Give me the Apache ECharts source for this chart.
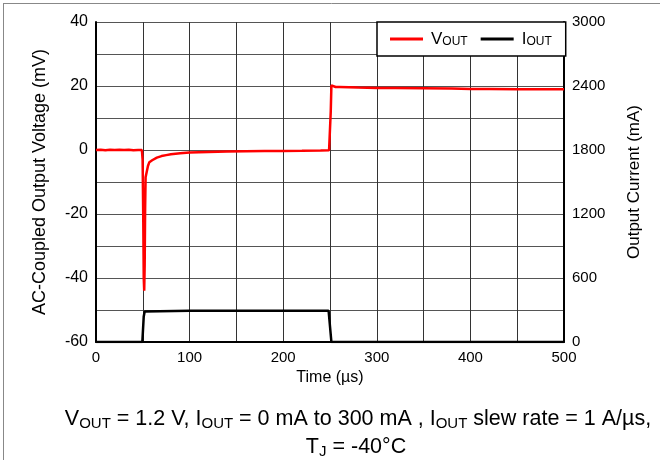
<!DOCTYPE html>
<html>
<head>
<meta charset="utf-8">
<script src="https://cdn.jsdelivr.net/npm/echarts@6/dist/echarts.min.js"></script>
<style>html,body{margin:0;padding:0;background:#fff}#c{width:660px;height:460px}</style>
</head>
<body>
<div id="c"></div>
<script>
// Time axis (µs)
const xTicks = [0, 100, 200, 300, 400, 500];
const leftTicks = [-60, -40, -20, 0, 20, 40];
const rightTicks = [0, 600, 1200, 1800, 2400, 3000];

// V_OUT (AC-coupled, mV)
const vTime = [0, 5, 10, 15, 20, 25, 30, 35, 40, 45, 49, 49.8, 50.5, 51, 51.5, 52, 52.5, 53, 53.5, 54.5, 55.5, 57, 60, 65, 70, 75, 80, 90, 100, 110, 120, 140, 160, 180, 200, 220, 240, 249, 250, 250.8, 251.5, 253, 256, 260, 270, 280, 300, 320, 350, 380, 400, 420, 450, 480, 500];
const vVal  = [0, 0.1, -0.1, 0.1, 0, 0.1, 0, 0.1, -0.1, 0, 0, -3, -22, -40, -44, -36, -18, -8.5, -7.8, -7.5, -5, -3.8, -3.2, -2.4, -1.9, -1.6, -1.3, -1, -0.8, -0.7, -0.6, -0.5, -0.4, -0.35, -0.3, -0.25, -0.15, -0.1, 0, 12, 20.2, 20, 19.7, 19.7, 19.6, 19.5, 19.4, 19.4, 19.3, 19.2, 19.1, 19.1, 19.0, 19.0, 19.0];

// I_OUT (mA)
const iTime = [0, 49.5, 51, 52, 54, 100, 150, 200, 248.5, 249.5, 251.5, 300, 400, 500];
const iVal  = [0, 0, 240, 285, 292, 293, 294, 293, 293, 285, 0, 0, 0, 0];

const vData = vTime.map((t, i) => [t, vVal[i]]);
const iData = iTime.map((t, i) => [t, iVal[i]]);

const FONT = '"Liberation Sans", Arial, sans-serif';
const subRich = (m, s, pad) => ({
  m: {fontSize: m, fontFamily: FONT, color: '#000', fill: '#000', lineHeight: m + 6},
  s: {fontSize: s, fontFamily: FONT, color: '#000', fill: '#000', lineHeight: m + 6, padding: [pad, 0, 0, 0]}
});
const chart = echarts.init(document.getElementById('c'), null, {renderer: 'canvas'});
chart.setOption({
  animation: false,
  backgroundColor: '#fff',
  grid: {left: 96, right: 96, top: 22, bottom: 118, containLabel: false},
  legend: {
    data: ['VOUT', 'IOUT'],
    left: 377, top: 22,
    orient: 'horizontal',
    backgroundColor: '#fff',
    borderColor: '#000', borderWidth: 1.5, borderRadius: 0,
    padding: [8, 14, 8, 13],
    itemGap: 13,
    icon: 'rect',
    itemWidth: 33, itemHeight: 3,
    formatter: n => n === 'VOUT' ? '{m|V}{s|OUT}' : '{m|I}{s|OUT}',
    textStyle: {
      fontFamily: FONT, color: '#000', padding: [0, 0, 0, 3],
      rich: subRich(17, 12, 6)
    }
  },
  xAxis: {
    type: 'value', min: 0, max: 500, interval: 50,
    name: 'Time (µs)', nameLocation: 'middle', nameGap: 28,
    nameTextStyle: {fontFamily: FONT, fontSize: 16, color: '#000'},
    axisLine: {show: true, onZero: false, lineStyle: {color: '#000', width: 2}},
    axisTick: {show: false},
    axisLabel: {
      fontFamily: FONT, fontSize: 15, color: '#000', margin: 8,
      formatter: v => xTicks.includes(v) ? String(v) : ''
    },
    splitLine: {show: true, lineStyle: {color: '#333', width: 1}}
  },
  yAxis: [{
    type: 'value', min: -60, max: 40, interval: 10, position: 'left',
    name: 'AC-Coupled Output Voltage (mV)', nameLocation: 'middle', nameGap: 47, nameRotate: 90,
    nameTextStyle: {fontFamily: FONT, fontSize: 18, color: '#000'},
    axisLine: {show: true, lineStyle: {color: '#000', width: 2}},
    axisTick: {show: false},
    axisLabel: {
      fontFamily: FONT, fontSize: 16, color: '#000', margin: 8,
      formatter: v => leftTicks.includes(v) ? String(v) : ''
    },
    splitLine: {show: true, lineStyle: {color: '#555', width: 1}}
  }, {
    type: 'value', min: 0, max: 3000, interval: 300, position: 'right',
    name: 'Output Current (mA)', nameLocation: 'middle', nameGap: 62, nameRotate: 90,
    nameTextStyle: {fontFamily: FONT, fontSize: 17, color: '#000'},
    axisLine: {show: true, lineStyle: {color: '#000', width: 2}},
    axisTick: {show: false},
    axisLabel: {
      fontFamily: FONT, fontSize: 15, color: '#000', margin: 8,
      formatter: v => rightTicks.includes(v) ? String(v) : ''
    },
    splitLine: {show: false}
  }],
  series: [{
    name: 'VOUT', type: 'line', yAxisIndex: 0, data: vData,
    symbol: 'none', smooth: false, z: 3,
    lineStyle: {color: '#ff0000', width: 2.5}, itemStyle: {color: '#ff0000'}
  }, {
    name: 'IOUT', type: 'line', yAxisIndex: 1, data: iData,
    symbol: 'none', smooth: false, z: 2,
    lineStyle: {color: '#000', width: 2.5}, itemStyle: {color: '#000'}
  }],
  graphic: [
    {type: 'line', shape: {x1: 3.5, y1: 3, x2: 3.5, y2: 460}, style: {stroke: '#888', lineWidth: 1}},
    {type: 'line', shape: {x1: 3, y1: 3.5, x2: 660, y2: 3.5}, style: {stroke: '#888', lineWidth: 1}},
    {type: 'text', x: 358, y: 419,
      style: {
        text: '{m|V}{s|OUT}{m| = 1.2 V, I}{s|OUT}{m| = 0 mA to 300 mA , I}{s|OUT}{m| slew rate = 1 A/µs,}',
        font: '21px ' + FONT, fill: '#000',
        align: 'center', verticalAlign: 'middle', textAlign: 'center', textVerticalAlign: 'middle',
        rich: subRich(21.5, 15, 10)
      }},
    {type: 'text', x: 356, y: 447,
      style: {
        text: '{m|T}{s|J}{m| = -40°C}',
        font: '21px ' + FONT, fill: '#000',
        align: 'center', verticalAlign: 'middle', textAlign: 'center', textVerticalAlign: 'middle',
        rich: subRich(21.5, 15, 10)
      }}
  ]
});
</script>
</body>
</html>
